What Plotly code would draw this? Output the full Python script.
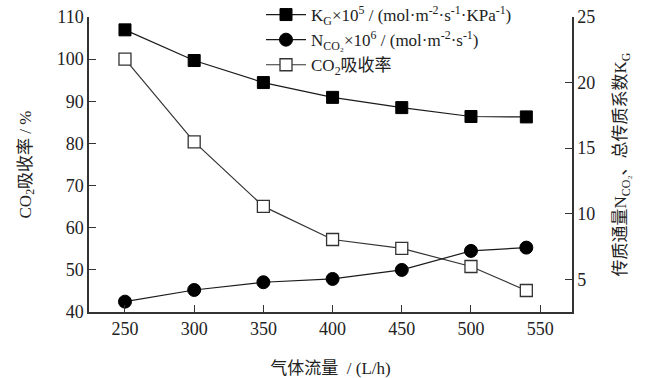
import plotly.graph_objects as go

flow = [250, 300, 350, 400, 450, 500, 540]
kg = [24.02, 21.68, 20.0, 18.87, 18.09, 17.41, 17.38]
nco2 = [3.29, 4.18, 4.77, 5.02, 5.71, 7.16, 7.41]
absorb = [100.0, 80.35, 65.06, 57.2, 55.1, 50.8, 45.1]

x_ticks = [250, 300, 350, 400, 450, 500, 550]
left_ticks = [40, 50, 60, 70, 80, 90, 100, 110]
right_ticks = [5, 10, 15, 20, 25]

FONT = "Liberation Serif, Times New Roman, Noto Sans CJK SC, serif"
INK = "#222222"
AX = "#333333"
W, H = 645, 378

fig = go.Figure()
fig.add_trace(go.Scatter(
    x=flow, y=kg, yaxis="y2", mode="lines+markers",
    name="K<sub>G</sub>×10<sup>5</sup> / (mol·m<sup>-2</sup>·s<sup>-1</sup>·KPa<sup>-1</sup>)",
    line=dict(color="#1a1a1a", width=1.2),
    marker=dict(symbol="square", size=12, color="black", line=dict(color="black", width=1)),
))
fig.add_trace(go.Scatter(
    x=flow, y=nco2, yaxis="y2", mode="lines+markers",
    name="N<sub>CO₂</sub>×10<sup>6</sup> / (mol·m<sup>-2</sup>·s<sup>-1</sup>)",
    line=dict(color="#1a1a1a", width=1.2),
    marker=dict(symbol="circle", size=13, color="black", line=dict(color="black", width=1)),
))
fig.add_trace(go.Scatter(
    x=flow, y=absorb, yaxis="y", mode="lines+markers",
    name="CO<sub>2</sub>吸收率",
    line=dict(color="#333333", width=1.2),
    marker=dict(symbol="square", size=12, color="white", line=dict(color="#333333", width=1.3)),
))

fig.update_layout(
    width=W, height=H,
    margin=dict(l=0, r=0, t=0, b=0, autoexpand=False),
    paper_bgcolor="white", plot_bgcolor="white",
    font=dict(family=FONT, size=17, color=INK),
    showlegend=True,
    legend=dict(
        x=261 / W, y=1.0 + 3 / H, xanchor="left", yanchor="top",
        bgcolor="rgba(0,0,0,0)", font=dict(size=17, color=INK),
        tracegroupgap=0, itemwidth=40,
    ),
    xaxis=dict(
        domain=[89 / W, 572 / W], automargin=False,
        range=[224, 573], tickvals=x_ticks, ticktext=[str(v) for v in x_ticks],
        ticks="inside", ticklen=7, tickcolor=AX, tickwidth=1.2,
        showline=True, linecolor=AX, linewidth=1.5, showgrid=False, zeroline=False,
        tickfont=dict(size=18),
        title=dict(text="气体流量  / (L/h)", font=dict(size=17), standoff=24),
    ),
    yaxis=dict(
        domain=[1 - 312 / H, 1 - 17 / H], automargin=False,
        range=[40, 110], tickvals=left_ticks, ticktext=[str(v) for v in left_ticks],
        ticks="inside", ticklen=7, tickcolor=AX, tickwidth=1.2,
        showline=True, linecolor=AX, linewidth=1.5, showgrid=False, zeroline=False,
        tickfont=dict(size=18),
        title=dict(text="CO<sub>2</sub>吸收率 / %", font=dict(size=17), standoff=21),
    ),
    yaxis2=dict(
        automargin=False,
        range=[2.5, 25], tickvals=right_ticks, ticktext=[str(v) for v in right_ticks],
        overlaying="y", side="right", anchor="x",
        ticks="inside", ticklen=7, tickcolor=AX, tickwidth=1.2,
        showline=True, linecolor=AX, linewidth=1.5, showgrid=False, zeroline=False,
        tickfont=dict(size=18),
        title=dict(text="传质通量N<sub>CO₂</sub>、总传质系数K<sub>G</sub>", font=dict(size=17), standoff=20),
    ),
)

fig.write_html("out.html")
